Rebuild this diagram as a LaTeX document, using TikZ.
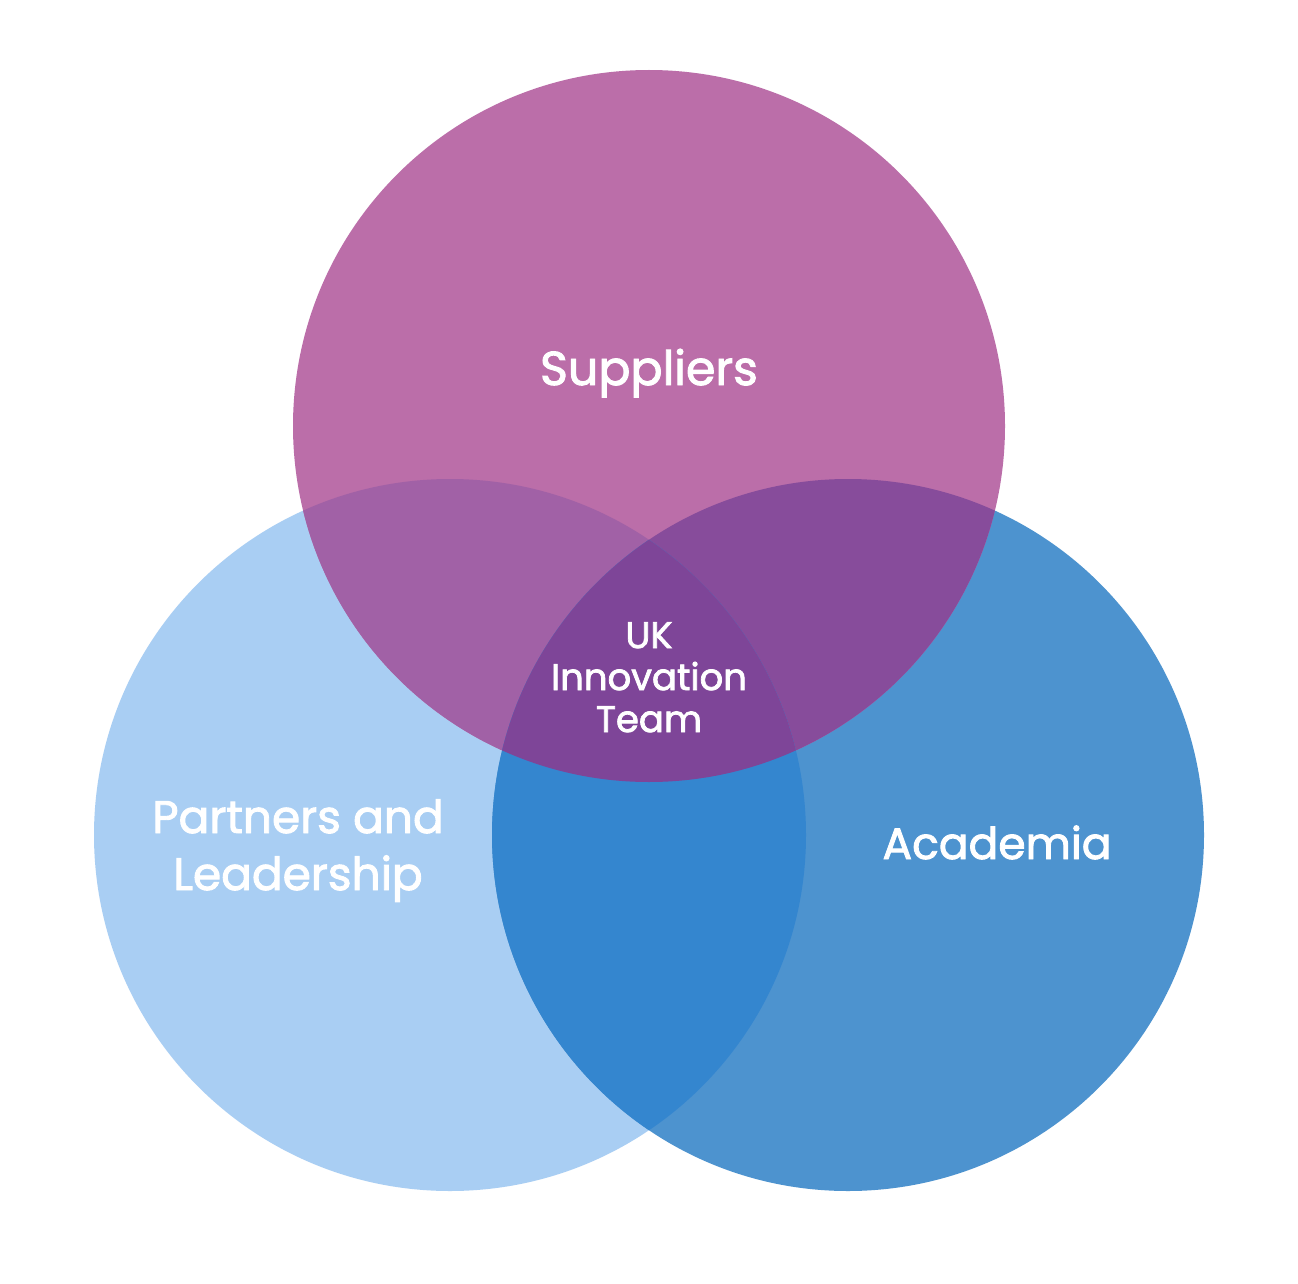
\documentclass[tikz,border=0pt]{standalone}
\usepackage{fontspec}
\setmainfont{Poppins}
\newfontfamily\labelfont{Poppins}[FakeBold=2]
\definecolor{cTop}{HTML}{BB6EA9}
\definecolor{cLeft}{HTML}{A9CEF3}
\definecolor{cRight}{HTML}{4D93CF}
\definecolor{cTL}{HTML}{A161A6}
\definecolor{cTR}{HTML}{874C9B}
\definecolor{cLR}{HTML}{3486CF}
\definecolor{cAll}{HTML}{7E4598}
\begin{document}
\begin{tikzpicture}[x=1pt,y=-1pt,
  venn/.style={circle, inner sep=0pt, minimum size=712pt, draw=none},
  lbl/.style={text=white, align=center, anchor=base, inner sep=0pt}]
\useasboundingbox[fill=white] (0,0) rectangle (1298,1284);
% base circles
\node[venn, fill=cLeft]  (partners)  at (450,835) {};
\node[venn, fill=cRight] (academia)  at (848,835) {};
\node[venn, fill=cTop]   (suppliers) at (649,426) {};
% pairwise overlaps
\begin{scope}
  \clip (partners.center) circle[radius=356pt];
  \fill[cTL] (suppliers.center) circle[radius=356pt];
\end{scope}
\begin{scope}
  \clip (academia.center) circle[radius=356pt];
  \fill[cTR] (suppliers.center) circle[radius=356pt];
\end{scope}
\begin{scope}
  \clip (partners.center) circle[radius=356pt];
  \clip (academia.center) circle[radius=356pt];
  \fill[cLR] (academia.center) circle[radius=356pt];
  \clip (suppliers.center) circle[radius=356pt];
  \fill[cAll] (suppliers.center) circle[radius=356pt];
\end{scope}
% labels
\node[lbl, font=\labelfont\fontsize{47.5}{47.5}\selectfont] (tSup) at (649,385) {Suppliers};
\node[lbl, font=\labelfont\fontsize{37}{42}\selectfont] (tUK) at (649,732) {UK\\Innovation\\Team};
\node[lbl, font=\labelfont\fontsize{45.5}{57}\selectfont] (tPar) at (298,890) {Partners and\\Leadership};
\node[lbl, font=\labelfont\fontsize{44}{44}\selectfont] (tAca) at (997,859) {Academia};
\end{tikzpicture}
\end{document}
